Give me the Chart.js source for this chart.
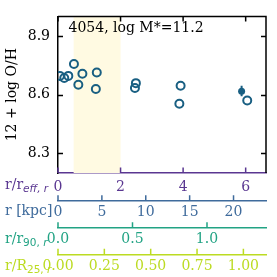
<!DOCTYPE html>
<html>
<head>
<meta charset="utf-8">
<script src="https://cdn.jsdelivr.net/npm/chart.js@4/dist/chart.umd.min.js"></script>
<style>
  html, body { margin: 0; padding: 0; background: #fff; }
</style>
</head>
<body>
<canvas id="chart" width="277" height="277"></canvas>
<script>
// metallicity profile, radius in units of r_eff
const rEff = [0.06, 0.20, 0.33, 0.51, 0.65, 0.78, 1.21, 1.24, 2.46, 2.49, 3.88, 3.92, 6.05];
const logOH = [8.696, 8.685, 8.696, 8.757, 8.651, 8.707, 8.629, 8.713, 8.634, 8.659, 8.554, 8.646, 8.570];

// filled point with error bar
const fitR = [5.87];
const fitOH = [8.617];
const fitLo = [8.592];
const fitHi = [8.646];

// shaded radial range
const bandRange = [0.5, 2.0];

// axis ranges (upper limits of the alternate radius scales)
const rEffMax = 6.65;
const kpcMax = 23.7;
const r90Max = 1.396;
const r25Max = 1.122;

const ohTicks = [8.3, 8.6, 8.9];
const rEffTicks = [0, 2, 4, 6];
const kpcTicks = [0, 5, 10, 15, 20];
const r90Ticks = [0, 0.5, 1.0];
const r25Ticks = [0, 0.25, 0.5, 0.75, 1.0];

const title = '4054, log M*=11.2';

const ptColor = '#195f82';
const cPurple = '#5a3791';
const cBlue = '#3f6b9c';
const cTeal = '#22a384';
const cLime = '#bcdb22';

const serif = '"DejaVu Serif", serif';

function fixTicks(list) {
  return scale => { scale.ticks = list.map(v => ({ value: v })); };
}

function bottomAxis(max, ticks, color, height, pad, fmt) {
  return {
    type: 'linear',
    position: 'bottom',
    min: 0,
    max: max,
    afterBuildTicks: fixTicks(ticks),
    afterFit: s => { s.height = height; },
    grid: { display: false, drawTicks: false },
    border: { display: true, color: color, width: 1.5 },
    ticks: {
      color: color,
      font: { family: serif, size: 14 },
      padding: pad,
      autoSkip: false,
      maxRotation: 0,
      callback: fmt
    }
  };
}

function drawLabel(ctx, x, y, main, subs, color) {
  ctx.fillStyle = color;
  ctx.textBaseline = 'alphabetic';
  ctx.textAlign = 'left';
  ctx.font = '14px ' + serif;
  ctx.fillText(main, x, y);
  x += ctx.measureText(main).width;
  subs.forEach(p => {
    ctx.font = (p.it ? 'oblique ' : '') + '10.5px "DejaVu Sans", sans-serif';
    ctx.fillText(p.t, x, y + 3);
    x += ctx.measureText(p.t).width;
  });
}

const extras = {
  id: 'extras',
  beforeDatasetsDraw(chart) {
    const { ctx, chartArea: a, scales: { x } } = chart;
    ctx.save();
    ctx.fillStyle = '#fffae2';
    const x0 = x.getPixelForValue(bandRange[0]);
    const x1 = x.getPixelForValue(bandRange[1]);
    ctx.fillRect(x0, a.top, x1 - x0, a.bottom - a.top);
    ctx.restore();
  },
  afterDraw(chart) {
    const { ctx, chartArea: a, scales } = chart;
    const { x, y } = scales;
    ctx.save();
    ctx.lineWidth = 1.5;
    ctx.strokeStyle = '#000';
    ctx.beginPath();
    ctx.moveTo(a.left, a.top);
    ctx.lineTo(a.right, a.top);
    ctx.lineTo(a.right, a.bottom);
    ctx.stroke();

    const tl = 5;
    ctx.beginPath();
    ohTicks.forEach(v => {
      const py = Math.round(y.getPixelForValue(v)) + 0.5;
      ctx.moveTo(a.left, py); ctx.lineTo(a.left + tl, py);
      ctx.moveTo(a.right, py); ctx.lineTo(a.right - tl, py);
    });
    rEffTicks.forEach(v => {
      const px = x.getPixelForValue(v);
      ctx.moveTo(px, a.top); ctx.lineTo(px, a.top + tl);
    });
    ctx.stroke();

    // upward ticks on every bottom axis
    [['x', rEffTicks, cPurple], ['x2', kpcTicks, cBlue], ['x3', r90Ticks, cTeal], ['x4', r25Ticks, cLime]]
      .forEach(([id, list, color]) => {
        const s = scales[id];
        ctx.strokeStyle = color;
        ctx.beginPath();
        list.forEach(v => {
          const px = s.getPixelForValue(v);
          ctx.moveTo(px, s.top); ctx.lineTo(px, s.top - 5.5);
        });
        ctx.stroke();
      });

    drawLabel(ctx, 5, 189, 'r/r', [{ t: 'eff, r', it: true }], cPurple);
    drawLabel(ctx, 5, 215, 'r [kpc]', [], cBlue);
    drawLabel(ctx, 5, 243, 'r/r', [{ t: '90, ' }, { t: 'r', it: true }], cTeal);
    drawLabel(ctx, 5, 270, 'r/R', [{ t: '25, ' }, { t: 'r', it: true }], cLime);

    ctx.fillStyle = '#000';
    ctx.font = '14px ' + serif;
    ctx.textBaseline = 'alphabetic';
    ctx.fillText(title, a.left + 10.5, 31.5);
    ctx.restore();
  }
};

new Chart(document.getElementById('chart'), {
  type: 'scatter',
  data: {
    datasets: [
      {
        data: rEff.map((r, i) => ({ x: r, y: logOH[i] })),
        pointStyle: 'circle',
        pointRadius: 4,
        pointBorderWidth: 2,
        pointBackgroundColor: 'rgba(0,0,0,0)',
        pointBorderColor: ptColor
      },
      {
        type: 'line',
        data: [{ x: fitR[0], y: fitLo[0] }, { x: fitR[0], y: fitHi[0] }],
        borderColor: ptColor,
        borderWidth: 2,
        pointRadius: 0,
        showLine: true
      },
      {
        data: fitR.map((r, i) => ({ x: r, y: fitOH[i] })),
        pointRadius: 3.5,
        pointBorderWidth: 0,
        pointBackgroundColor: ptColor
      }
    ]
  },
  options: {
    responsive: false,
    animation: false,
    layout: { padding: { top: 16, right: 11, left: 0, bottom: 0 } },
    plugins: { legend: { display: false }, tooltip: { enabled: false } },
    scales: {
      x: bottomAxis(rEffMax, rEffTicks, cPurple, 27.7, 5.5, v => String(v)),
      x2: bottomAxis(kpcMax, kpcTicks, cBlue, 27, 3.3, v => String(v)),
      x3: bottomAxis(r90Max, r90Ticks, cTeal, 26.6, 3.3, v => v.toFixed(1)),
      x4: bottomAxis(r25Max, r25Ticks, cLime, 22.7, 3.7, v => v.toFixed(2)),
      y: {
        type: 'linear',
        min: 8.2,
        max: 9.0,
        afterBuildTicks: fixTicks(ohTicks),
        afterFit: s => { s.width = 58; },
        grid: { display: false, drawTicks: false },
        border: { display: true, color: '#000', width: 1.5 },
        ticks: {
          color: '#000',
          font: { family: serif, size: 14 },
          padding: 8,
          callback: v => v.toFixed(1)
        },
        title: {
          display: true,
          text: '12 + log O/H',
          color: '#000',
          font: { family: serif, size: 14 },
          padding: { top: 4, bottom: 0 }
        }
      }
    }
  },
  plugins: [extras]
});
</script>
</body>
</html>
